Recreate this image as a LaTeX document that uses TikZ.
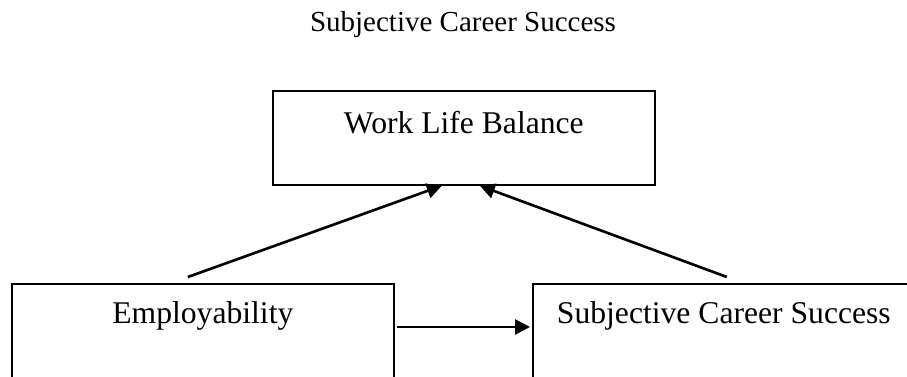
\documentclass[tikz,border=0pt]{standalone}
\usepackage{fontspec}
\setmainfont{Liberation Serif}
\usetikzlibrary{arrows.meta,calc}

\begin{document}
\begin{tikzpicture}[
        x=0.02cm, y=-0.02cm,
        box/.style={rectangle, draw, line width=1pt, anchor=north west, minimum width=7.64cm,
            inner xsep=0pt, inner ysep=0pt, font=\fontsize{18}{21}\selectfont},
        arrow/.style={-{Triangle[length=8.5pt, width=8.5pt]}, line width=1.5pt}
    ]
    \useasboundingbox (0,0) rectangle (907,377);
    \clip (0,0) rectangle (907,377);
    \node[anchor=base, font=\fontsize{16.5}{19}\selectfont] (title) at (463,32) {Subjective Career Success};
    \node[box, text height=0.86cm, text depth=1.02cm] (wlb) at (272,90) {Work Life Balance};
    \node[box, text height=0.8cm, text depth=1.4cm] (emp) at (11,283) {Employability};
    \node[box, text height=0.8cm, text depth=1.4cm] (scs) at (532,283) {Subjective Career Success};
    \coordinate (e1) at ($(emp.north)+(-15,-6)$);
    \coordinate (s1) at ($(scs.north)+(3,-6)$);
    \draw[arrow] (e1) -- ($(wlb.south)+(-22,0)$);
    \draw[arrow] (s1) -- ($(wlb.south)+(16,0)$);
    \draw[arrow] ($(emp.north east)+(2,44)$) -- ($(scs.north west)+(-2,44)$);
    \end{tikzpicture}
\end{document}
